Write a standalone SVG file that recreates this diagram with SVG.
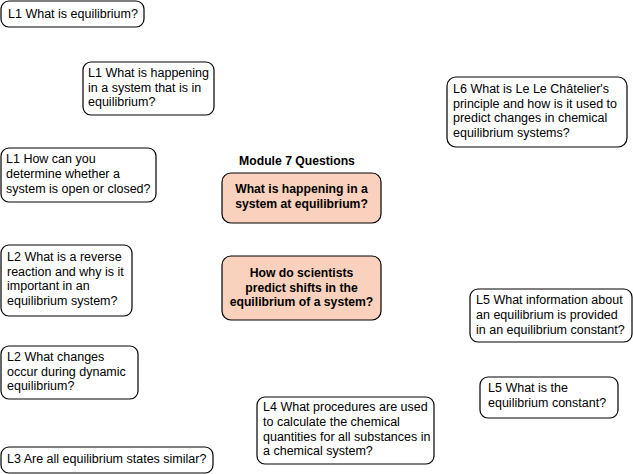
<svg xmlns="http://www.w3.org/2000/svg" width="633" height="474" viewBox="0 0 633 474">
<style>
.b{fill:#fff;stroke:#000;stroke-width:1.2}
.p{fill:#f9d1bd;stroke:#000;stroke-width:1.2}
text{font-family:"Liberation Sans",Arial,sans-serif;font-size:12.5px;fill:#000}
.c{text-anchor:middle;font-weight:bold;font-size:12.2px}
</style>
<rect width="633" height="474" fill="#fff"/>
<g id="connectors"/>
<g id="title"><text class="c" x="297" y="165">Module 7 Questions</text></g>
<g id="n1"><rect class="b" x="1" y="1" width="143" height="26" rx="8"/><text x="8" y="18">L1 What is equilibrium?</text></g>
<g id="n2"><rect class="b" x="83" y="62" width="131" height="53" rx="8"/><text x="88" y="77">L1 What is happening</text><text x="88" y="92">in a system that is in</text><text x="88" y="106">equilibrium?</text></g>
<g id="n3"><rect class="b" x="1" y="148" width="155" height="54" rx="8"/><text x="6" y="163">L1 How can you</text><text x="6" y="178">determine whether a</text><text x="6" y="193">system is open or closed?</text></g>
<g id="q1"><rect class="p" x="222" y="173" width="159" height="50" rx="9"/><text class="c" x="301.5" y="193">What is happening in a</text><text class="c" x="301.5" y="208">system at equilibrium?</text></g>
<g id="q2"><rect class="p" x="222" y="256" width="159" height="64" rx="9"/><text class="c" x="301.5" y="277">How do scientists</text><text class="c" x="301.5" y="291.5">predict shifts in the</text><text class="c" x="301.5" y="306">equilibrium of a system?</text></g>
<g id="n6"><rect class="b" x="447" y="77" width="180" height="70" rx="9"/><text x="453" y="93">L6 What is Le Le Châtelier's</text><text x="453" y="108">principle and how is it used to</text><text x="453" y="122">predict changes in chemical</text><text x="453" y="137">equilibrium systems?</text></g>
<g id="n4"><rect class="b" x="1" y="245" width="131" height="71" rx="8"/><text x="7" y="261">L2 What is a reverse</text><text x="7" y="276">reaction and why is it</text><text x="7" y="290">important in an</text><text x="7" y="305">equilibrium system?</text></g>
<g id="n5"><rect class="b" x="1" y="346" width="137" height="53" rx="8"/><text x="7" y="361">L2 What changes</text><text x="7" y="376">occur during dynamic</text><text x="7" y="390">equilibrium?</text></g>
<g id="n7"><rect class="b" x="1" y="447" width="212" height="26" rx="8"/><text x="7" y="463">L3 Are all equilibrium states similar?</text></g>
<g id="n8"><rect class="b" x="470" y="289" width="162" height="53" rx="8"/><text x="476" y="304">L5 What information about</text><text x="476" y="319">an equilibrium is provided</text><text x="476" y="334">in an equilibrium constant?</text></g>
<g id="n9"><rect class="b" x="480" y="377" width="138" height="41" rx="8"/><text x="488" y="392">L5 What is the</text><text x="488" y="407">equilibrium constant?</text></g>
<g id="n10"><rect class="b" x="257" y="397" width="177" height="67" rx="8"/><text x="263" y="411">L4 What procedures are used</text><text x="263" y="426">to calculate the chemical</text><text x="263" y="441">quantities for all substances in</text><text x="263" y="455">a chemical system?</text></g>
</svg>
